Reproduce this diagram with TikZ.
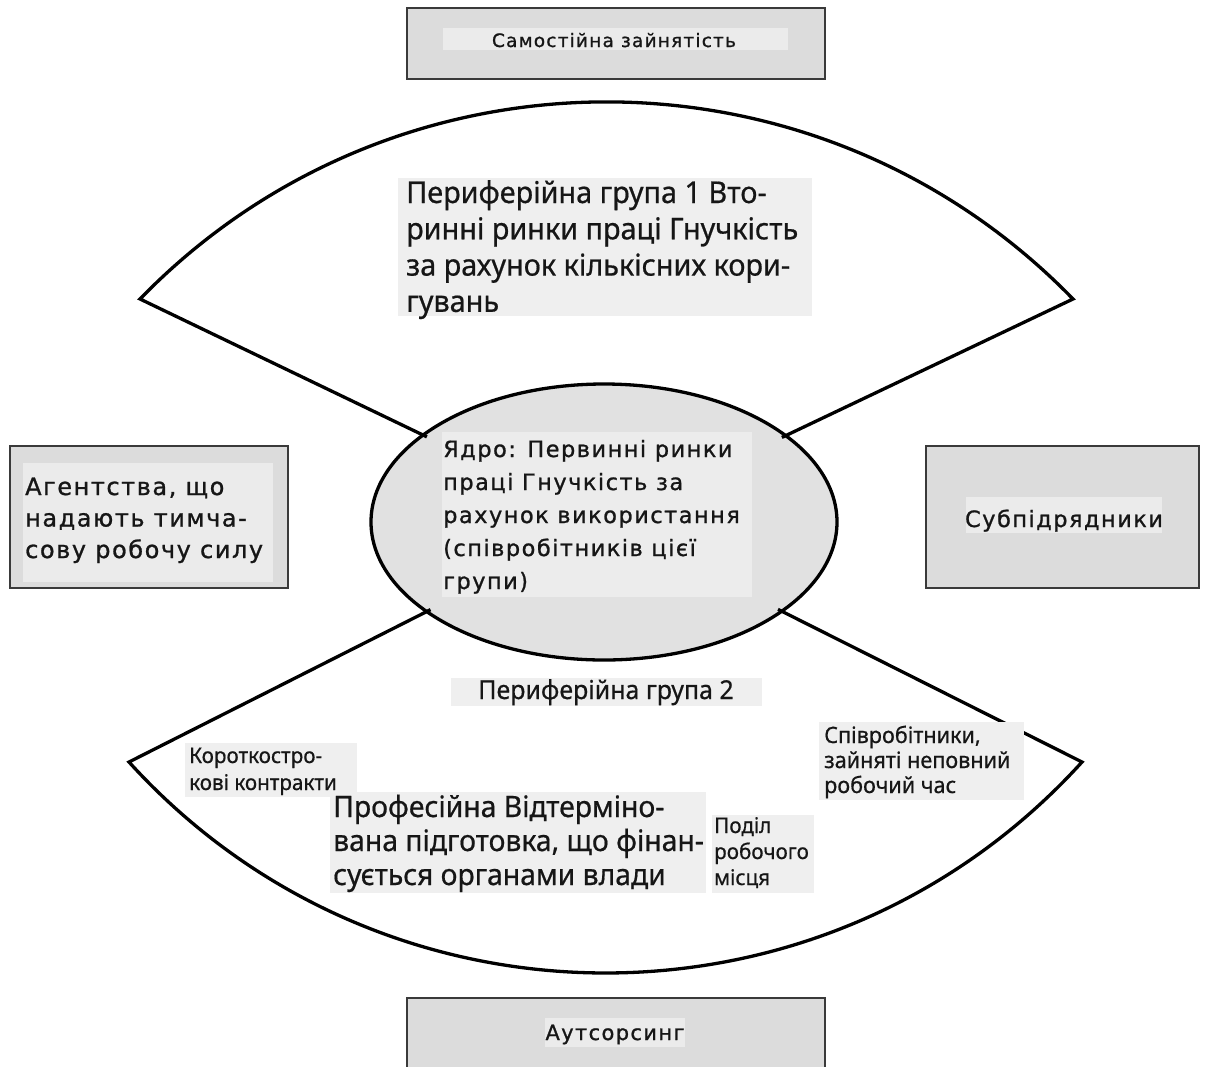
\documentclass[tikz,border=0pt]{standalone}
\usepackage{fontspec}
\setmainfont{Noto Sans}
\newfontfamily\wf[LetterSpace=6.5,FakeBold=1]{DejaVu Sans}
\newfontfamily\cf[FakeStretch=0.96,FakeBold=0.6]{Noto Sans}
\usetikzlibrary{shapes.geometric}
\definecolor{boxgray}{HTML}{DCDCDC}
\definecolor{innergray}{HTML}{EBEBEB}
\definecolor{coregray}{HTML}{E1E1E1}
\definecolor{corebg}{HTML}{ECECEC}
\definecolor{fanbg}{HTML}{EFEFEF}
\definecolor{edgegray}{HTML}{3A3A3A}
\definecolor{ink}{HTML}{161616}
\begin{document}
\begin{tikzpicture}[x=1pt,y=-1pt,
  outerbox/.style={draw=edgegray, line width=1.6pt, fill=boxgray, inner sep=0, anchor=north west},
  bgrect/.style={fill=#1, draw=none, inner sep=0, anchor=north west},
  fan/.style={line width=3.3pt, line join=miter, draw=black},
  txt/.style={anchor=base west, inner sep=0, text=ink},
  ctxt/.style={anchor=base, inner sep=0, text=ink}
]
\useasboundingbox[fill=white] (0,0) rectangle (1207,1066);

% outer boxes
\node[outerbox, minimum width=418, minimum height=71] (selfbox) at (406,7) {};
\node[bgrect=innergray, minimum width=345, minimum height=22] (selfbg) at (443,28) {};
\node[ctxt, font=\wf\fontsize{18.5}{22}\selectfont] (self) at (614,47) {Самостійна зайнятість};

\node[outerbox, minimum width=278, minimum height=142] (agbox) at (9,445) {};
\node[bgrect=innergray, minimum width=250, minimum height=119] (agbg) at (23,463) {};
\node[txt, font=\wf\fontsize{24}{31.5}\selectfont] (ag) at (25,495)
  {\vtop{\hbox{Агентства, що}\hbox{надають тимча-}\hbox{сову робочу силу}}};

\node[outerbox, minimum width=273, minimum height=142] (subbox) at (925,445) {};
\node[bgrect=innergray, minimum width=196, minimum height=36] (subbg) at (966,497) {};
\node[ctxt, font=\wf\fontsize{22.5}{25}\selectfont] (sub) at (1064,527) {Субпідрядники};

\node[outerbox, minimum width=418, minimum height=80] (outbox) at (406,997) {};
\node[bgrect=innergray, minimum width=140, minimum height=29] (outbg) at (545,1018) {};
\node[ctxt, font=\wf\fontsize{21}{23}\selectfont] (out) at (615,1040) {Аутсорсинг};

% core ellipse
\node[ellipse, draw=black, line width=3.3pt, fill=coregray, minimum width=466, minimum height=276, inner sep=0] (core) at (604,522) {};

% fans
\coordinate (tl) at (140,299);
\coordinate (tr) at (1073,299);
\coordinate (bl) at (129,762);
\coordinate (br) at (1082,762);
\draw[fan, shorten <=-6pt, shorten >=-6pt] (core) -- (tl) .. controls (395.5,36.2) and (817.5,36.2) .. (tr) -- (core);
\draw[fan, shorten <=-6pt, shorten >=-6pt] (core) -- (bl) .. controls (384.3,1043.3) and (826.7,1043.3) .. (br) -- (core);

% core text
\node[bgrect=corebg, minimum width=310, minimum height=165] (corebgr) at (442,432) {};
\node[txt, font=\wf\fontsize{22.5}{33}\selectfont] (coretxt) at (443,457)
  {\vtop{\hbox{Ядро: Первинні ринки}\hbox{праці Гнучкість за}\hbox{рахунок використання}\hbox{(співробітників цієї}\hbox{групи)}}};

% peripheral group 1
\node[bgrect=fanbg, minimum width=414, minimum height=138] (p1bg) at (398,178) {};
\node[txt, font=\cf\fontsize{30}{36.3}\selectfont] (p1) at (406,203)
  {\vtop{\hbox{Периферійна група 1 Вто-}\hbox{ринні ринки праці Гнучкість}\hbox{за рахунок кількісних кори-}\hbox{гувань}}};

% peripheral group 2
\node[bgrect=fanbg, minimum width=311, minimum height=28] (p2bg) at (451,678) {};
\node[ctxt, font=\cf\fontsize{26}{28}\selectfont] (p2) at (606,699) {Периферійна група 2};

\node[bgrect=fanbg, minimum width=172, minimum height=54] (shortbg) at (185,743) {};
\node[txt, font=\cf\fontsize{21.5}{27}\selectfont] (short) at (189,763)
  {\vtop{\hbox{Короткостро-}\hbox{кові контракти}}};

\node[bgrect=fanbg, minimum width=205, minimum height=78] (partbg) at (819,722) {};
\node[txt, font=\cf\fontsize{22.5}{25}\selectfont] (part) at (824,743)
  {\vtop{\hbox{Співробітники,}\hbox{зайняті неповний}\hbox{робочий час}}};

\node[bgrect=fanbg, minimum width=376, minimum height=101] (profbg) at (330,792) {};
\node[txt, font=\cf\fontsize{29.5}{34}\selectfont] (prof) at (333,817)
  {\vtop{\hbox{Професійна Відтерміно-}\hbox{вана підготовка, що фінан-}\hbox{сується органами влади}}};

\node[bgrect=fanbg, minimum width=102, minimum height=78] (sharebg) at (712,815) {};
\node[txt, font=\cf\fontsize{21.5}{26}\selectfont] (share) at (714,833)
  {\vtop{\hbox{Поділ}\hbox{робочого}\hbox{місця}}};
\end{tikzpicture}
\end{document}
